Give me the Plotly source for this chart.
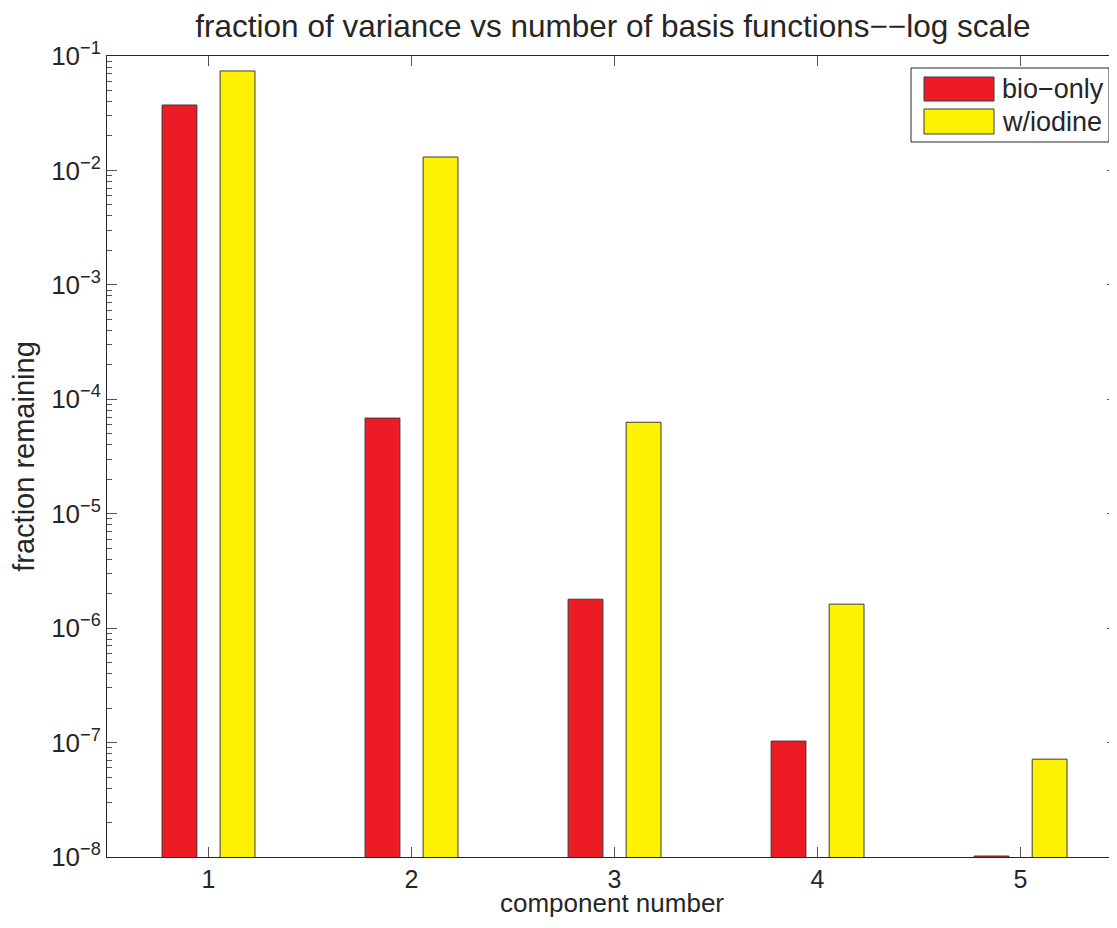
import plotly.graph_objects as go

categories = [1, 2, 3, 4, 5]
bio_only = [3.73e-2, 6.85e-5, 1.79e-6, 1.03e-7, 1.02e-8]
w_iodine = [7.4e-2, 1.31e-2, 6.3e-5, 1.62e-6, 7.16e-8]
series_names = ["bio\u2212only", "w/iodine"]
series_colors = ["#ED1C24", "#FFF200"]
y_tick_exps = [-8, -7, -6, -5, -4, -3, -2, -1]

TXT = "#262626"
font = "Liberation Sans, Arial, Helvetica, sans-serif"

fig = go.Figure()
for vals, name, col in zip([bio_only, w_iodine], series_names, series_colors):
    fig.add_trace(go.Bar(x=categories, y=vals, name=name, showlegend=False,
                         marker=dict(color=col, line=dict(color="#3a3a3a", width=1))))

ytickvals = [10.0 ** e for e in y_tick_exps]
yticktext = ["10<sup>\u2212%d</sup>" % (-e) for e in y_tick_exps]
minor_vals = [k * 10.0 ** e for e in range(-8, -1) for k in range(2, 10)]

# plot area: x 107..1117 px, y 56..857 px (1010 x 801)
def px(X):
    return (X - 107) / 1010.0

def py(Y):
    return (857 - Y) / 801.0

shapes = [dict(type="rect", xref="paper", yref="paper", x0=px(911), x1=px(1109),
               y0=py(142), y1=py(68), line=dict(color=TXT, width=1),
               fillcolor="white", layer="above")]
sw_rows = [(77, 101, 89), (109, 134, 122)]
annotations = []
for (top, bot, mid), name, col in zip(sw_rows, series_names, series_colors):
    shapes.append(dict(type="rect", xref="paper", yref="paper", x0=px(924), x1=px(994),
                       y0=py(bot), y1=py(top), line=dict(color="#3a3a3a", width=1),
                       fillcolor=col, layer="above"))
    annotations.append(dict(text=name, xref="paper", yref="paper", x=px(1000), y=py(mid),
                            xanchor="left", yanchor="middle", showarrow=False,
                            font=dict(size=27, color=TXT, family=font)))

fig.update_layout(
    width=1109, height=910,
    margin=dict(l=99, r=0, t=48, b=61),
    paper_bgcolor="white", plot_bgcolor="white",
    barmode="group", bargap=0.428, bargroupgap=0.4,
    font=dict(family=font, color=TXT),
    title=dict(text="fraction of variance vs number of basis functions\u2212\u2212log scale",
               x=0.5455, xanchor="center", y=0.980, yanchor="middle",
               font=dict(size=31.5, color=TXT)),
    shapes=shapes, annotations=annotations,
    showlegend=False,
)
fig.update_xaxes(
    range=[0.5, 5.475], tickvals=categories, ticks="inside", ticklen=10,
    tickcolor="#555555", showline=True, linecolor=TXT, linewidth=1,
    mirror="ticks", showgrid=False, zeroline=False,
    tickfont=dict(size=25, color=TXT),
    title=dict(text="component number", font=dict(size=26, color=TXT), standoff=6),
)
fig.update_yaxes(
    type="log", range=[-8, -1], tickvals=ytickvals, ticktext=yticktext,
    ticks="inside", ticklen=10, tickcolor="#555555",
    minor=dict(tickvals=minor_vals, ticks="inside", ticklen=5, tickcolor="#555555"),
    showline=True, linecolor=TXT, linewidth=1, mirror="ticks",
    showgrid=False, zeroline=False,
    tickfont=dict(size=26, color=TXT),
    title=dict(text="fraction remaining", font=dict(size=29, color=TXT), standoff=8),
)

fig.write_html("out.html")
